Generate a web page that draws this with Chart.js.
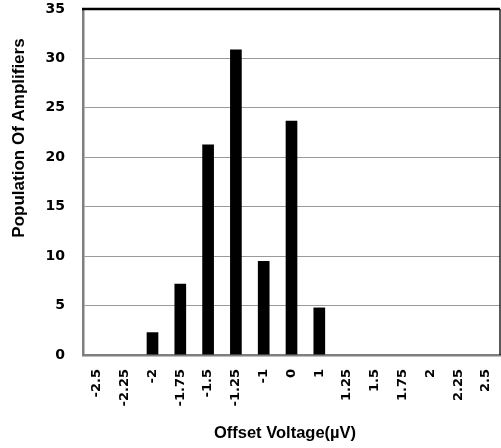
<!DOCTYPE html>
<html>
<head>
<meta charset="utf-8">
<script src="https://cdn.jsdelivr.net/npm/chart.js@4"></script>
<style>
	html, body { margin: 0; padding: 0; background: #fff; overflow: hidden; }
	#wrap { width: 501px; height: 448px; }
</style>
</head>
<body>
<div id="wrap"><canvas id="barChart"></canvas></div>
<script>
// offset voltage bins and amplifier counts
const offsetBins = ['-2.5', '-2.25', '-2', '-1.75', '-1.5', '-1.25', '-1', '0', '1', '1.25', '1.5', '1.75', '2', '2.25', '2.5'];
const amplifierCounts = [0, 0, 2.3, 7.2, 21.3, 30.9, 9.5, 23.7, 4.8, 0, 0, 0, 0, 0, 0];
const yTicks = [0, 5, 10, 15, 20, 25, 30, 35];

const yTitle = 'Population Of Amplifiers';
const xTitle = 'Offset Voltage(\u00b5V)';

Chart.defaults.color = '#000';
Chart.defaults.font.family = "'Liberation Sans', Arial, sans-serif";
Chart.defaults.font.weight = 'bold';

// top/right frame lines and both axis titles
const frame = {
	id: 'frame',
	afterDraw(chart) {
		const { ctx, chartArea: a } = chart;
		ctx.save();
		ctx.strokeStyle = '#000';
		ctx.lineWidth = 2.5;
		ctx.beginPath();
		ctx.moveTo(a.left - 1, a.top);
		ctx.lineTo(a.right, a.top);
		ctx.stroke();
		ctx.lineWidth = 1.3;
		ctx.beginPath();
		ctx.moveTo(a.right, a.top);
		ctx.lineTo(a.right, a.bottom);
		ctx.stroke();

		ctx.fillStyle = '#000';
		ctx.textAlign = 'center';
		ctx.textBaseline = 'middle';
		ctx.font = "bold 16.5px 'Liberation Sans', Arial, sans-serif";
		ctx.fillText(xTitle, 285, 433);

		ctx.translate(19, 138);
		ctx.rotate(-Math.PI / 2);
		ctx.font = "bold 17px 'Liberation Sans', Arial, sans-serif";
		ctx.fillText(yTitle, 0, 0);
		ctx.restore();
	}
};

new Chart(document.getElementById('barChart'), {
	type: 'bar',
	data: {
		labels: offsetBins,
		datasets: [{
			data: amplifierCounts,
			backgroundColor: '#000',
			borderWidth: 0,
			categoryPercentage: 1,
			barPercentage: 0.42
		}]
	},
	options: {
		responsive: true,
		maintainAspectRatio: false,
		animation: false,
		layout: { padding: { top: 9, right: 1, left: 0, bottom: 0 } },
		plugins: {
			legend: { display: false },
			tooltip: { enabled: false }
		},
		scales: {
			x: {
				afterFit: (s) => {
					s.height = 93;
					s.paddingLeft = 0;
					s.paddingRight = 0;
				},
				grid: { display: false, drawTicks: false },
				border: { color: '#7f7f7f', width: 2.5 },
				ticks: {
					maxRotation: 90,
					minRotation: 90,
					padding: 14,
					autoSkip: false,
					font: { family: "'DejaVu Sans', sans-serif", size: 13, weight: 'bold' }
				}
			},
			y: {
				min: 0,
				max: 35,
				afterFit: (s) => {
					s.width = 83;
					s.paddingTop = 0;
					s.paddingBottom = 0;
				},
				afterBuildTicks: (s) => { s.ticks = yTicks.map((v) => ({ value: v })); },
				grid: { color: '#9a9a9a', lineWidth: 1, drawTicks: false },
				border: { color: '#7f7f7f', width: 2.5 },
				ticks: {
					padding: 18,
					font: { family: "'DejaVu Sans', sans-serif", size: 14, weight: 'bold' }
				}
			}
		}
	},
	plugins: [frame]
});
</script>
</body>
</html>
